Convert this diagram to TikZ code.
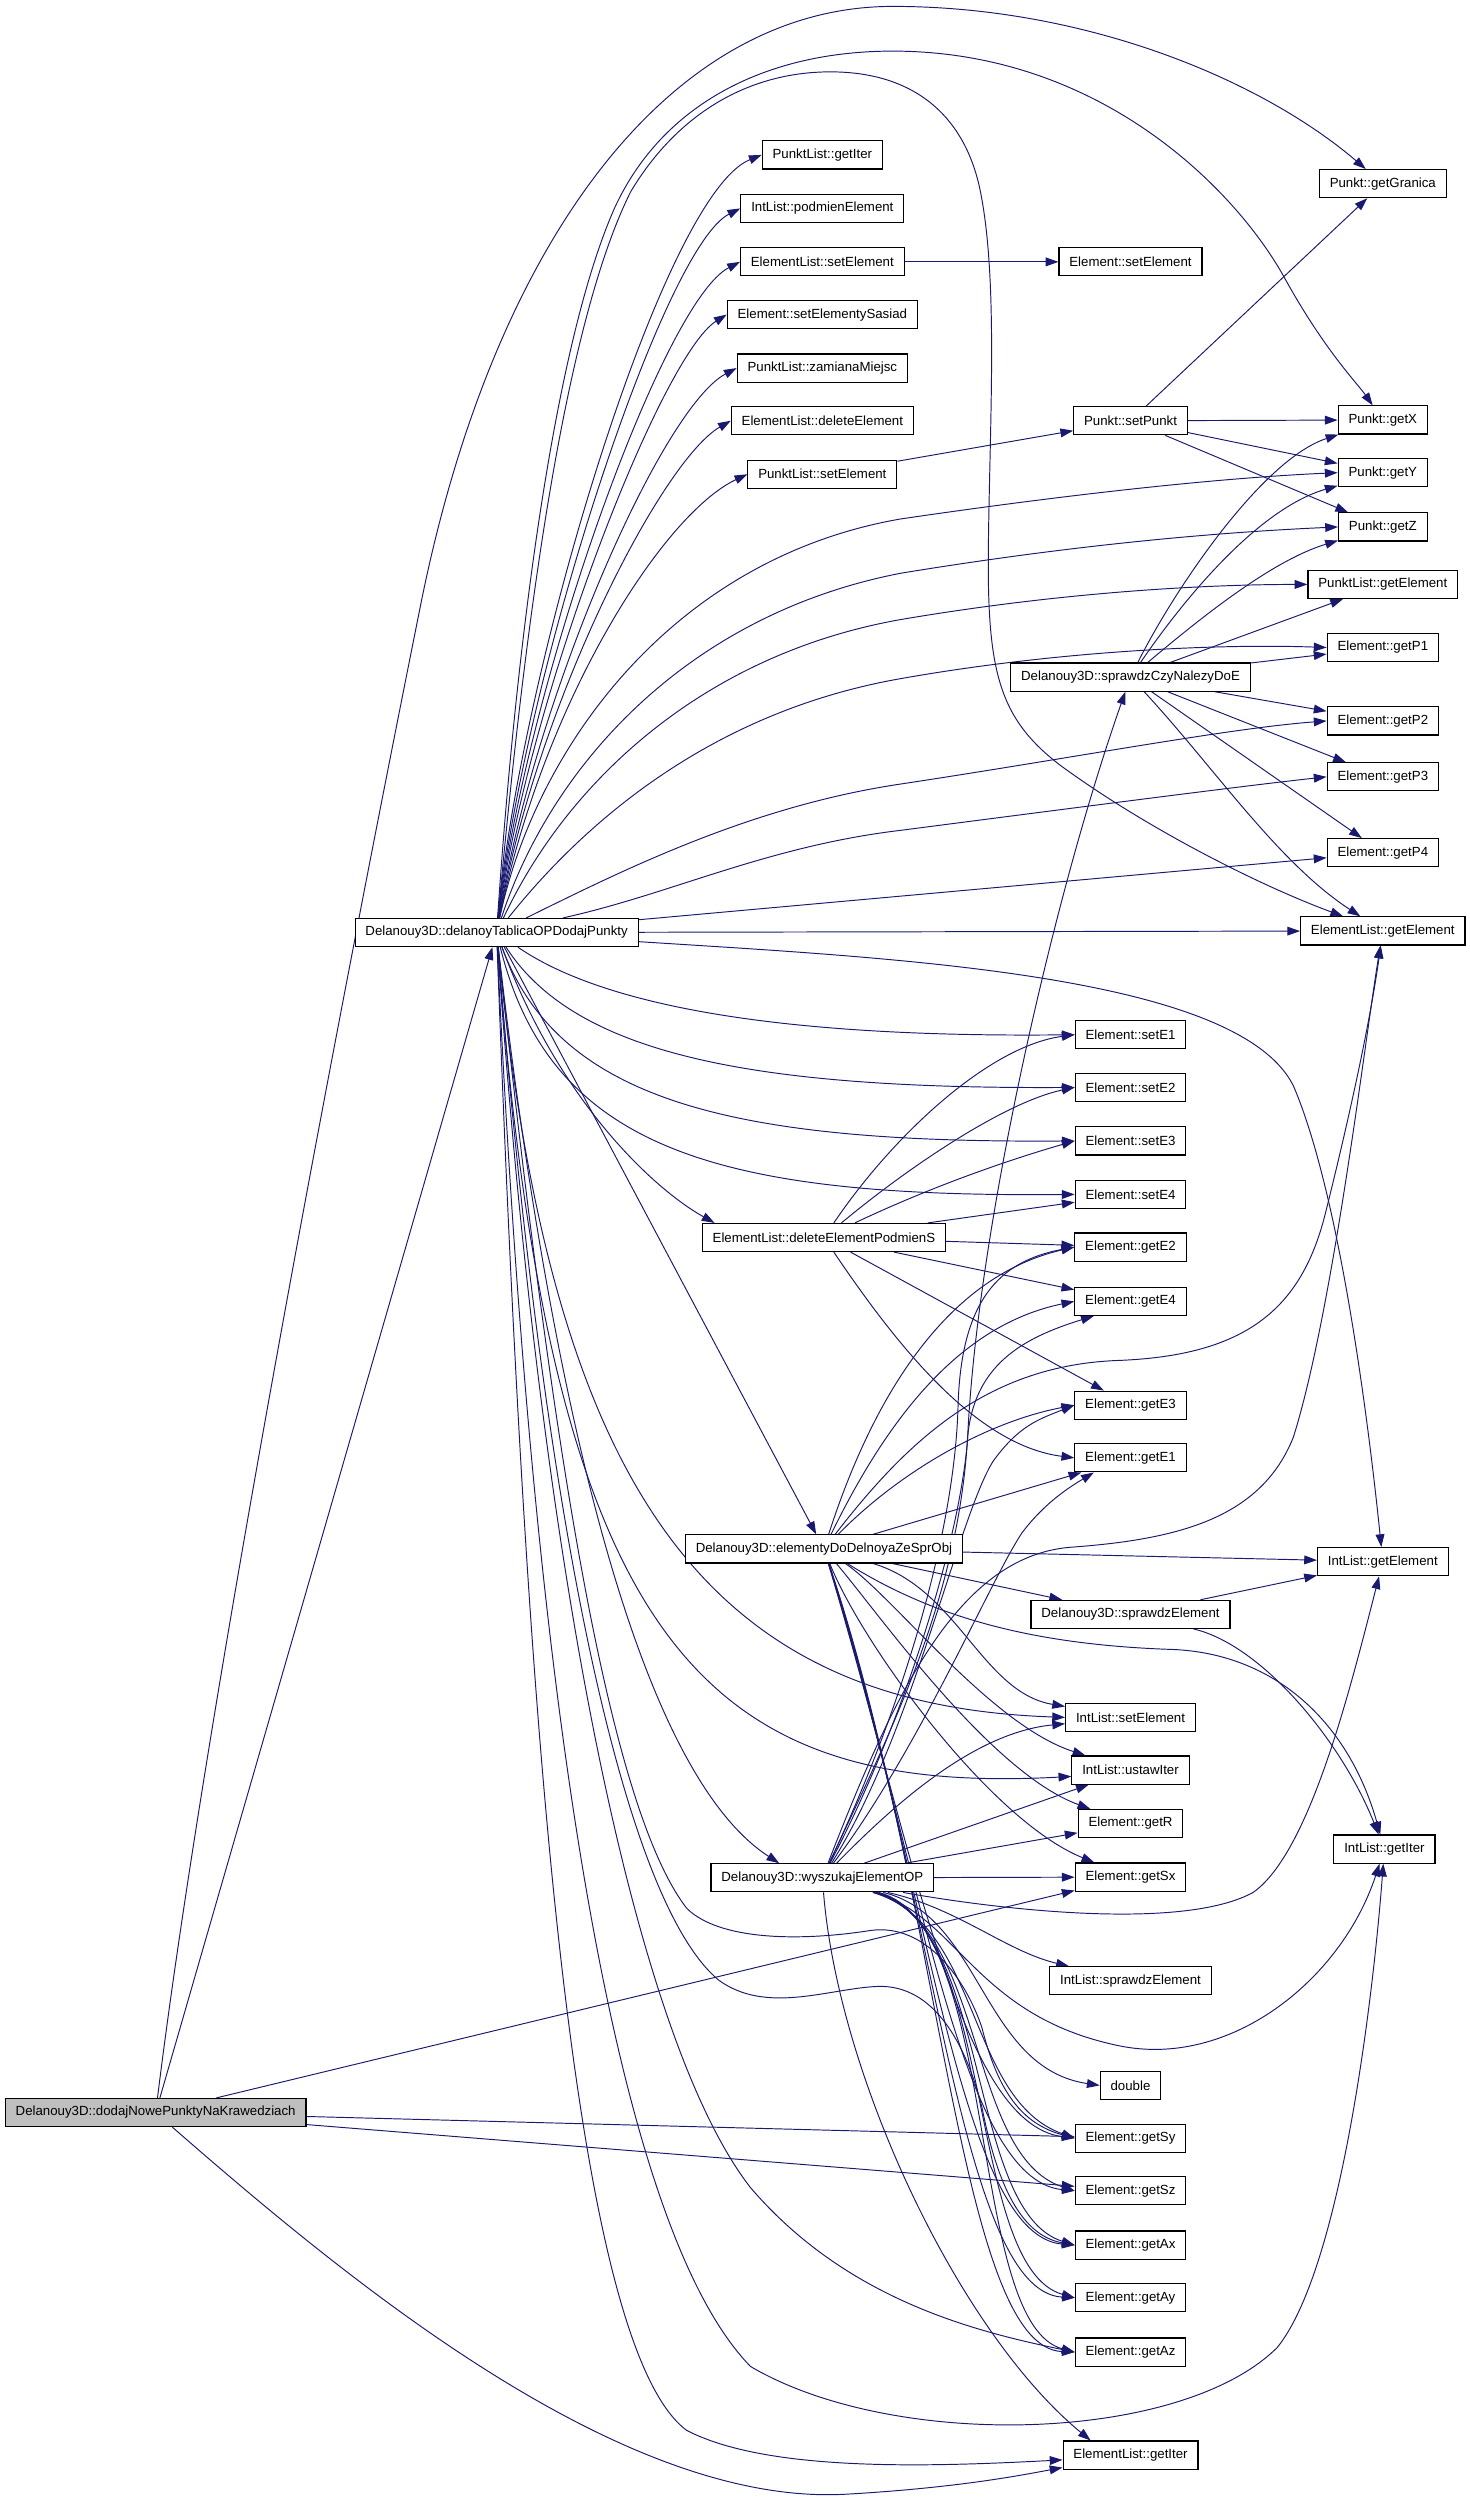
\documentclass[tikz,border=0pt]{standalone}
\usepackage{fontspec}
\setmainfont{Liberation Sans}
\usetikzlibrary{arrows.meta}
\definecolor{edgeblue}{RGB}{25,25,112}
\definecolor{rootgray}{RGB}{191,191,191}
\pgfdeclarelayer{paper}
\pgfdeclarelayer{edges}
\pgfsetlayers{paper,edges,main}

\begin{document}
\begin{tikzpicture}[x=1pt,y=-1pt,
        fn/.style={draw=black,fill=white,line width=0.7pt,minimum height=17.6pt,inner xsep=6.5pt,inner ysep=0pt,font=\fontsize{8.3}{10}\selectfont},
        call/.style={draw=edgeblue,line width=0.6pt,-{Triangle[length=8pt,width=5.5pt]}}]
                \begin{pgfonlayer}{paper}
                \fill [white] (0,0) rectangle (920,1564.4);
                \end{pgfonlayer}
                \useasboundingbox (0,0) rectangle (920,1564.4);
                \node [fn,fill=rootgray] (dodaj) at (97.5,1323) {Delanouy3D::dodajNowePunktyNaKrawedziach};
                \node [fn] (delanoy) at (311,584) {Delanouy3D::delanoyTablicaOPDodajPunkty};
                \node [fn] (plGetIter) at (515,97) {PunktList::getIter};
                \node [fn] (ilPodmien) at (515,130.5) {IntList::podmienElement};
                \node [fn] (elSetElement) at (515,164) {ElementList::setElement};
                \node [fn] (eSetSasiad) at (515,197) {Element::setElementySasiad};
                \node [fn] (plZamiana) at (515,230.5) {PunktList::zamianaMiejsc};
                \node [fn] (elDelete) at (515,263.5) {ElementList::deleteElement};
                \node [fn] (plSetElement) at (515,297) {PunktList::setElement};
                \node [fn] (eSetElement) at (708,164) {Element::setElement};
                \node [fn] (pSetPunkt) at (708,263.5) {Punkt::setPunkt};
                \node [fn] (pGranica) at (866,115) {Punkt::getGranica};
                \node [fn] (pGetX) at (866,263) {Punkt::getX};
                \node [fn] (pGetY) at (866,296) {Punkt::getY};
                \node [fn] (pGetZ) at (866,330) {Punkt::getZ};
                \node [fn] (plGetElement) at (866,366) {PunktList::getElement};
                \node [fn] (eGetP1) at (866,405.5) {Element::getP1};
                \node [fn] (sprawdzCzy) at (708,424) {Delanouy3D::sprawdzCzyNalezyDoE};
                \node [fn] (eGetP2) at (866,451.5) {Element::getP2};
                \node [fn] (eGetP3) at (866,486.5) {Element::getP3};
                \node [fn] (eGetP4) at (866,534) {Element::getP4};
                \node [fn] (elGetElement) at (866,583) {ElementList::getElement};
                \node [fn] (eSetE1) at (708,648) {Element::setE1};
                \node [fn] (eSetE2) at (708,681) {Element::setE2};
                \node [fn] (eSetE3) at (708,714.5) {Element::setE3};
                \node [fn] (eSetE4) at (708,748) {Element::setE4};
                \node [fn] (eGetE2) at (708,781) {Element::getE2};
                \node [fn] (eGetE4) at (708,815) {Element::getE4};
                \node [fn] (eGetE3) at (708,880) {Element::getE3};
                \node [fn] (eGetE1) at (708,913) {Element::getE1};
                \node [fn] (delPodmien) at (516,775) {ElementList::deleteElementPodmienS};
                \node [fn] (elementyDo) at (516,970) {Delanouy3D::elementyDoDelnoyaZeSprObj};
                \node [fn] (ilGetElement) at (866,978) {IntList::getElement};
                \node [fn] (sprawdzEl) at (708,1011) {Delanouy3D::sprawdzElement};
                \node [fn] (ilSetElement) at (708,1075.5) {IntList::setElement};
                \node [fn] (ilUstawIter) at (708,1108.5) {IntList::ustawIter};
                \node [fn] (eGetR) at (708,1142) {Element::getR};
                \node [fn] (eGetSx) at (708,1175.5) {Element::getSx};
                \node [fn] (wyszukaj) at (515,1176) {Delanouy3D::wyszukajElementOP};
                \node [fn] (ilGetIter) at (867,1158) {IntList::getIter};
                \node [fn] (ilSprawdz) at (708,1240.5) {IntList::sprawdzElement};
                \node [fn] (dbl) at (708,1306) {double};
                \node [fn] (eGetSy) at (708,1339) {Element::getSy};
                \node [fn] (eGetSz) at (708,1372) {Element::getSz};
                \node [fn] (eGetAx) at (708,1406) {Element::getAx};
                \node [fn] (eGetAy) at (708,1439) {Element::getAy};
                \node [fn] (eGetAz) at (708,1473) {Element::getAz};
                \node [fn] (elGetIter) at (708,1537.5) {ElementList::getIter};
                \begin{pgfonlayer}{edges}
                \draw [call] (dodaj) -- (delanoy);
                \draw [call] (dodaj) .. controls (125,1100) and (195,720) .. (264,376) .. controls (310,150) and (420,4) .. (559,4) .. controls (680,4) and (790,50) .. (pGranica);
                \draw [call] (dodaj) -- (eGetSx);
                \draw [call] (dodaj) -- (eGetSy);
                \draw [call] (dodaj) -- (eGetSz);
                \draw [call] (dodaj) .. controls (220,1430) and (390,1570) .. (530,1562) .. controls (600,1558) and (640,1550) .. (elGetIter);
                \draw [call] (delanoy) .. controls (326,420) and (415,122) .. (plGetIter.west);
                \draw [call] (delanoy) .. controls (328,424) and (415,155) .. (ilPodmien.west);
                \draw [call] (delanoy) .. controls (330,428) and (415,189) .. (elSetElement.west);
                \draw [call] (delanoy) .. controls (332,432) and (415,222) .. (eSetSasiad.west);
                \draw [call] (delanoy) .. controls (335,435) and (415,255) .. (plZamiana.west);
                \draw [call] (delanoy) .. controls (337,438) and (415,288) .. (elDelete.west);
                \draw [call] (delanoy) .. controls (340,440) and (415,322) .. (plSetElement.west);
                \draw [call] (delanoy) .. controls (322,420) and (345,220) .. (385,130) .. controls (415,65) and (480,32) .. (559,32) .. controls (690,32) and (775,120) .. (805,175) .. controls (830,220) and (850,240) .. (pGetX);
                \draw [call] (delanoy) .. controls (326,420) and (350,210) .. (395,120) .. controls (425,70) and (470,45) .. (520,45) .. controls (575,45) and (605,75) .. (614,120) .. controls (625,175) and (620,260) .. (619,340) .. controls (618,420) and (625,450) .. (665,480) .. controls (720,520) and (790,555) .. (elGetElement);
                \draw [call] (delanoy) .. controls (335,470) and (420,350) .. (564,325) .. controls (680,308) and (770,299) .. (pGetY.west);
                \draw [call] (delanoy) .. controls (345,480) and (430,385) .. (564,359) .. controls (680,340) and (770,333) .. (pGetZ.west);
                \draw [call] (delanoy) .. controls (355,490) and (440,410) .. (564,388) .. controls (670,370) and (760,366) .. (plGetElement.west);
                \draw [call] (delanoy) .. controls (370,510) and (450,445) .. (564,425) .. controls (660,408) and (760,403) .. (eGetP1.west);
                \draw [call] (delanoy) .. controls (390,545) and (470,505) .. (564,491) .. controls (670,475) and (770,456) .. (eGetP2.west);
                \draw [call] (delanoy) .. controls (420,560) and (480,530) .. (564,520) .. controls (680,505) and (780,492) .. (eGetP3.west);
                \draw [call] (delanoy) -- (eGetP4);
                \draw [call] (delanoy) -- (elGetElement);
                \draw [call] (delanoy) .. controls (560,600) and (775,610) .. (810,680) .. controls (840,750) and (858,900) .. (ilGetElement);
                \draw [call] (delanoy) .. controls (375,628) and (480,650) .. (eSetE1.west);
                \draw [call] (delanoy) .. controls (360,660) and (470,682) .. (eSetE2.west);
                \draw [call] (delanoy) .. controls (350,690) and (460,716) .. (eSetE3.west);
                \draw [call] (delanoy) .. controls (345,720) and (450,750) .. (eSetE4.west);
                \draw [call] (delanoy) .. controls (350,690) and (410,745) .. ([xshift=8pt]delPodmien.north west);
                \draw [call] (delanoy) -- (elementyDo);
                \draw [call] (delanoy) .. controls (345,880) and (400,1110) .. ([xshift=-27pt]wyszukaj.north);
                \draw [call] (delanoy) .. controls (345,930) and (440,1068) .. (ilSetElement.west);
                \draw [call] (delanoy) .. controls (345,1030) and (440,1125) .. ([yshift=-4pt]ilUstawIter.west);
                \draw [call] (delanoy) .. controls (345,900) and (380,1130) .. (430,1195) .. controls (450,1215) and (500,1216) .. (545,1209) .. controls (580,1204) and (605,1240) .. (615,1270) .. controls (625,1310) and (640,1330) .. (eGetSy.west);
                \draw [call] (delanoy) .. controls (340,950) and (390,1190) .. (450,1240) .. controls (480,1262) and (520,1245) .. (550,1244) .. controls (585,1243) and (605,1280) .. (615,1320) .. controls (625,1370) and (640,1400) .. (eGetAx.west);
                \draw [call] (delanoy) .. controls (340,1000) and (400,1280) .. (470,1370) .. controls (530,1440) and (610,1460) .. (eGetAz.west);
                \draw [call] (delanoy) .. controls (330,1100) and (360,1470) .. (430,1522) .. controls (480,1548) and (580,1545) .. ([yshift=-3pt]elGetIter.west);
                \draw [call] (delanoy) .. controls (335,1100) and (390,1400) .. (470,1482) .. controls (560,1535) and (740,1530) .. (800,1470) .. controls (840,1420) and (860,1250) .. (ilGetIter);
                \draw [call] (elementyDo) .. controls (545,880) and (590,800) .. (eGetE2.west);
                \draw [call] (elementyDo) .. controls (555,890) and (600,830) .. (eGetE4.west);
                \draw [call] (elementyDo) .. controls (565,920) and (620,890) .. (eGetE3.west);
                \draw [call] (elementyDo) -- (eGetE1);
                \draw [call] (elementyDo) .. controls (570,900) and (620,855) .. (700,852) .. controls (780,849) and (815,820) .. (830,760) .. controls (845,700) and (858,640) .. (elGetElement);
                \draw [call] (elementyDo) -- (ilGetElement);
                \draw [call] (elementyDo) -- (sprawdzEl);
                \draw [call] (elementyDo) .. controls (580,1010) and (640,1030) .. (735,1033) .. controls (800,1036) and (845,1080) .. (ilGetIter);
                \draw [call] (elementyDo) .. controls (600,995) and (615,1060) .. (ilSetElement);
                \draw [call] (elementyDo) .. controls (560,1000) and (620,1080) .. (ilUstawIter);
                \draw [call] (elementyDo) .. controls (550,1010) and (620,1110) .. (eGetR);
                \draw [call] (elementyDo) .. controls (540,1030) and (620,1140) .. (eGetSx);
                \draw [call] (elementyDo) .. controls (570,1150) and (600,1330) .. (eGetSy.west);
                \draw [call] (elementyDo) .. controls (575,1160) and (600,1365) .. (eGetSz.west);
                \draw [call] (elementyDo) .. controls (580,1170) and (600,1400) .. (eGetAx.west);
                \draw [call] (elementyDo) .. controls (585,1180) and (600,1435) .. (eGetAy.west);
                \draw [call] (elementyDo) .. controls (590,1190) and (600,1470) .. (eGetAz.west);
                \draw [call] (wyszukaj) -- (eGetSx);
                \draw [call] (wyszukaj) -- (eGetR);
                \draw [call] (wyszukaj) -- (ilUstawIter);
                \draw [call] (wyszukaj) .. controls (560,1130) and (610,1085) .. (ilSetElement);
                \draw [call] (wyszukaj) .. controls (560,1080) and (600,1000) .. (606,900) .. controls (612,770) and (660,560) .. (sprawdzCzy);
                \draw [call] (wyszukaj) .. controls (565,1070) and (598,960) .. (600,880) .. controls (602,815) and (625,790) .. (eGetE2.west);
                \draw [call] (wyszukaj) .. controls (568,1075) and (602,960) .. (606,900) .. controls (610,855) and (640,838) .. ([xshift=-23pt]eGetE4.south);
                \draw [call] (wyszukaj) .. controls (572,1085) and (600,950) .. (622,915) .. controls (638,893) and (650,889) .. (eGetE3.west);
                \draw [call] (wyszukaj) .. controls (576,1095) and (620,990) .. (640,960) .. controls (655,940) and (672,930) .. ([xshift=-23pt]eGetE1.south);
                \draw [call] (wyszukaj) .. controls (560,1060) and (600,975) .. (670,969) .. controls (740,964) and (790,950) .. (810,900) .. controls (835,820) and (855,650) .. (elGetElement);
                \draw [call] (wyszukaj) .. controls (620,1195) and (740,1210) .. (785,1185) .. controls (820,1160) and (845,1060) .. (ilGetElement);
                \draw [call] (wyszukaj) .. controls (600,1195) and (630,1222) .. (ilSprawdz);
                \draw [call] (wyszukaj) .. controls (615,1200) and (615,1295) .. (dbl.west);
                \draw [call] (wyszukaj) .. controls (600,1200) and (610,1262) .. (700,1281) .. controls (770,1296) and (840,1240) .. (ilGetIter);
                \draw [call] (wyszukaj) .. controls (615,1205) and (605,1315) .. (eGetSy.west);
                \draw [call] (wyszukaj) .. controls (618,1205) and (605,1350) .. (eGetSz.west);
                \draw [call] (wyszukaj) .. controls (621,1205) and (605,1385) .. (eGetAx.west);
                \draw [call] (wyszukaj) .. controls (624,1205) and (605,1420) .. (eGetAy.west);
                \draw [call] (wyszukaj) .. controls (627,1205) and (605,1455) .. (eGetAz.west);
                \draw [call] (wyszukaj) .. controls (525,1300) and (600,1460) .. ([xshift=-25pt]elGetIter.north);
                \draw [call] (delPodmien) .. controls (560,710) and (620,655) .. (eSetE1.west);
                \draw [call] (delPodmien) .. controls (570,730) and (630,690) .. (eSetE2.west);
                \draw [call] (delPodmien) .. controls (590,740) and (640,724) .. (eSetE3.west);
                \draw [call] (delPodmien) -- (eSetE4);
                \draw [call] (delPodmien) -- (eGetE2);
                \draw [call] (delPodmien) -- (eGetE4);
                \draw [call] (delPodmien) -- (eGetE3);
                \draw [call] (delPodmien) .. controls (560,840) and (610,905) .. (eGetE1.west);
                \draw [call] (sprawdzCzy) .. controls (735,370) and (790,288) .. (pGetX);
                \draw [call] (sprawdzCzy) .. controls (745,370) and (790,318) .. (pGetY);
                \draw [call] (sprawdzCzy) .. controls (760,380) and (800,350) .. (pGetZ);
                \draw [call] (sprawdzCzy) -- (plGetElement);
                \draw [call] (sprawdzCzy) -- (eGetP1);
                \draw [call] (sprawdzCzy) -- (eGetP2);
                \draw [call] (sprawdzCzy) -- (eGetP3);
                \draw [call] (sprawdzCzy) -- (eGetP4);
                \draw [call] (sprawdzCzy) .. controls (760,480) and (800,540) .. (elGetElement);
                \draw [call] (pSetPunkt) -- (pGranica);
                \draw [call] (pSetPunkt) -- (pGetX);
                \draw [call] (pSetPunkt) -- (pGetY);
                \draw [call] (pSetPunkt) -- (pGetZ);
                \draw [call] (plSetElement) -- (pSetPunkt);
                \draw [call] (elSetElement) -- (eSetElement);
                \draw [call] (sprawdzEl) -- (ilGetElement);
                \draw [call] (sprawdzEl) .. controls (790,1030) and (840,1090) .. (ilGetIter);
                \end{pgfonlayer}
\end{tikzpicture}
\end{document}
